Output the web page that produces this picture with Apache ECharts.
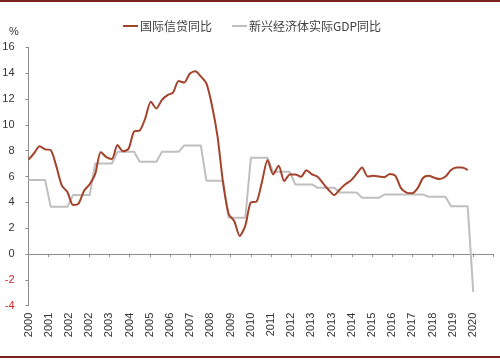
<!DOCTYPE html>
<html>
<head>
<meta charset="utf-8">
<script src="https://cdn.jsdelivr.net/npm/echarts@6/dist/echarts.min.js"></script>
<style>
html,body{margin:0;padding:0;background:#fff;}
#wrap{position:relative;width:500px;height:360px;overflow:hidden;}
#chart{position:absolute;left:0;top:0;width:500px;height:360px;}
.rule{position:absolute;left:0;width:500px;height:2px;background:#7b1f1f;}
</style>
</head>
<body>
<div id="wrap">
  <div id="chart"></div>
  <div class="rule" style="top:0"></div>
  <div class="rule" style="top:356px"></div>
</div>
<script>
// Tick labels of the x axis (one per major tick, as printed)
const tickLabels = ['2000','2001','2002','2002','2003','2004','2005','2006','2007','2008','2009',
  '2010','2011','2012','2013','2013','2014','2015','2016','2017','2018','2019','2020'];

// Series names
const seriesNames = ['国际信贷同比', '新兴经济体实际GDP同比'];

// International credit YoY (%), quarterly from 2000Q1
const credit = [
  7.3, 7.8, 8.35, 8.1, 8.04, 6.8, 5.3, 4.8, 3.8, 3.9,
  4.9, 5.4, 6.2, 7.9, 7.5, 7.35, 8.43, 7.95, 8.15, 9.5,
  9.56, 10.5, 11.78, 11.27, 11.93, 12.3, 12.5, 13.4, 13.27, 13.95,
  14.15, 13.75, 13.2, 11.5, 9.1, 5.5, 3.1, 2.55, 1.4, 2.2,
  4.0, 4.05, 5.6, 7.27, 6.16, 6.83, 5.64, 6.16, 6.16, 5.98,
  6.49, 6.16, 5.98, 5.46, 4.95, 4.56, 5.0, 5.4, 5.7, 6.2,
  6.7, 6.0, 6.05, 6.0, 5.95, 6.2, 6.05, 5.1, 4.75, 4.7,
  5.1, 5.9, 6.05, 5.9, 5.8, 6.0, 6.5, 6.7, 6.7, 6.5
];

// Emerging economies real GDP YoY (%), quarterly from 2000Q1 (annual value per quarter)
const gdp = [
  5.72, 5.72, 5.72, 5.72,  3.65, 3.65, 3.65, 3.65,  4.56, 4.56, 4.56, 4.56,
  7.01, 7.01, 7.01, 7.01,  7.91, 7.91, 7.91, 7.91,  7.15, 7.15, 7.15, 7.15,
  7.91, 7.91, 7.91, 7.91,  8.4, 8.4, 8.4, 8.4,      5.68, 5.68, 5.68, 5.68,
  2.8, 2.8, 2.8, 2.8,      7.45, 7.45, 7.45, 7.45,  6.36, 6.36, 6.36, 6.36,
  5.39, 5.39, 5.39, 5.39,  5.12, 5.12, 5.12, 5.12,  4.77, 4.77, 4.77, 4.77,
  4.35, 4.35, 4.35, 4.35,  4.6, 4.6, 4.6, 4.6,      4.6, 4.6, 4.6, 4.6,
  4.43, 4.43, 4.43, 4.43,  3.7, 3.7, 3.7, 3.7,      -2.93
];

// axis span: 23 tick intervals of ~3.635 quarters each
const quartersPerTick = 3.635;
const tickCount = 23;

const chart = echarts.init(document.getElementById('chart'), null, {renderer: 'canvas'});
const font = '"Liberation Sans", Arial, sans-serif';
const axisGrey = '#8c8c8c';

chart.setOption({
  animation: false,
  backgroundColor: '#fff',
  title: {
    text: '%', left: 4, top: 21,
    textStyle: {fontSize: 11, fontWeight: 'normal', color: '#333', fontFamily: font}
  },
  legend: {
    left: 123, top: 20, padding: 0,
    itemWidth: 15, itemHeight: 2, itemGap: 20,
    icon: 'rect',
    data: seriesNames,
    textStyle: {fontSize: 12, color: '#404040', padding: [0, 0, 0, -3],
      fontFamily: '"Noto Sans CJK SC", sans-serif'}
  },
  grid: {left: 28.5, right: 6.7, top: 47.3, bottom: 54.3, containLabel: false, outerBoundsMode: 'none'},
  xAxis: [
    {
      type: 'value', min: 0, max: tickCount, interval: 1,
      axisLine: {show: true, onZero: true, lineStyle: {color: axisGrey, width: 1}},
      axisTick: {show: true, length: 3, lineStyle: {color: axisGrey}},
      axisLabel: {show: false},
      splitLine: {show: false}
    },
    {
      type: 'value', min: 0, max: tickCount, interval: 1, position: 'bottom',
      axisLine: {show: false, onZero: false},
      axisTick: {show: false},
      splitLine: {show: false},
      axisLabel: {
        rotate: 90, margin: 7, fontSize: 11, color: '#333', fontFamily: font,
        showMinLabel: true, showMaxLabel: true,
        formatter: v => (tickLabels[Math.round(v)] || '')
      }
    },
    {
      type: 'value', min: 0, max: tickCount * quartersPerTick, show: false,
      axisLine: {onZero: false}
    }
  ],
  yAxis: {
    type: 'value', min: -4, max: 16, interval: 2,
    axisLine: {show: true, lineStyle: {color: axisGrey, width: 1}},
    axisTick: {show: true, length: 3, lineStyle: {color: axisGrey}},
    splitLine: {show: false},
    axisLabel: {
      margin: 14, fontSize: 11, fontFamily: font,
      color: v => (Number(v) < 0 ? '#d42a2a' : '#333')
    }
  },
  series: [
    {
      name: seriesNames[0], type: 'line', xAxisIndex: 2,
      data: credit.map((v, i) => [i, v]),
      symbol: 'none', smooth: 0.25, z: 3,
      lineStyle: {color: '#a4432b', width: 2},
      itemStyle: {color: '#a4432b'}
    },
    {
      name: seriesNames[1], type: 'line', xAxisIndex: 2,
      data: gdp.map((v, i) => [i, v]),
      symbol: 'none', z: 2,
      lineStyle: {color: '#bfbfbf', width: 2},
      itemStyle: {color: '#bfbfbf'}
    }
  ]
});
</script>
</body>
</html>
